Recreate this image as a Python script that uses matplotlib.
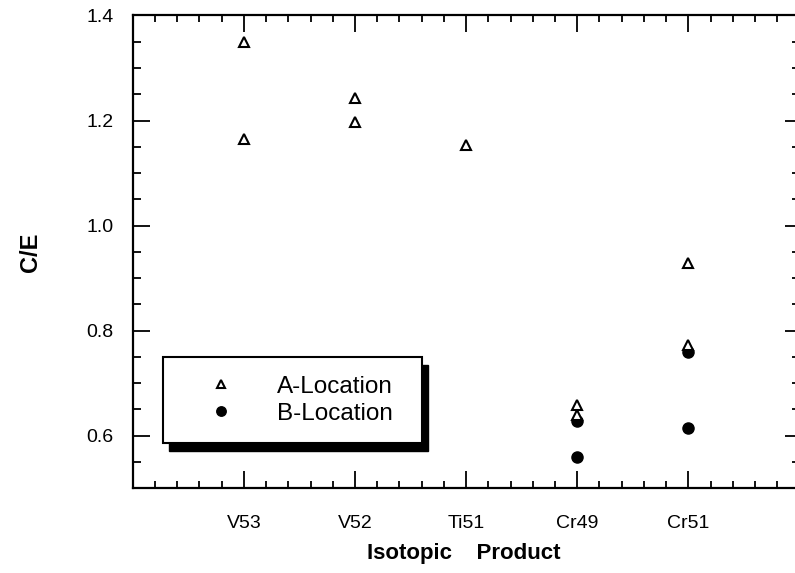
import matplotlib.pyplot as plt
from matplotlib.patches import Rectangle
from matplotlib.ticker import MultipleLocator, FixedLocator

plt.rcParams['font.family'] = ['Liberation Sans', 'DejaVu Sans']

# isotopic products and measured C/E ratios
products = ['V53', 'V52', 'Ti51', 'Cr49', 'Cr51']
a_x = [1, 1, 2, 2, 3, 4, 4, 5, 5]
a_ce = [1.350, 1.164, 1.242, 1.198, 1.154, 0.659, 0.640, 0.928, 0.773]
b_x = [4, 4, 5, 5]
b_ce = [0.627, 0.560, 0.760, 0.615]

fig = plt.figure(figsize=(7.95, 5.73), dpi=100)
ax = fig.add_axes([0.167, 0.148, 0.833, 0.825])

ax.plot(a_x, a_ce, '^', mfc='white', mec='black', mew=1.5, ms=7.5,
        label='A-Location', zorder=4)
ax.plot(b_x, b_ce, 'o', color='black', ms=8, label='B-Location', zorder=3)

ax.set_xlim(0, 5.96)
ax.set_ylim(0.5, 1.4)

ax.xaxis.set_major_locator(FixedLocator(range(1, 6)))
ax.set_xticklabels(products)
ax.xaxis.set_minor_locator(MultipleLocator(0.2))
ax.set_yticks([0.6, 0.8, 1.0, 1.2, 1.4])
ax.set_yticklabels(['0.6', '0.8', '1.0', '1.2', '1.4'])
ax.yaxis.set_minor_locator(MultipleLocator(0.05))

ax.tick_params(which='both', direction='in', top=True, right=False,
               labelsize=14, width=1.3)
ax.tick_params(axis='x', which='major', length=12, pad=19)
ax.tick_params(axis='x', which='minor', length=5)
ax.tick_params(axis='y', which='major', length=12, pad=14)
ax.tick_params(axis='y', which='minor', length=6)

ax.spines['right'].set_visible(False)
for side in ['left', 'top', 'bottom']:
    ax.spines[side].set_linewidth(1.6)

# short ticks along the right edge (no spine drawn there)
ax2 = ax.twinx()
ax2.set_ylim(ax.get_ylim())
ax2.set_yticks([0.6, 0.8, 1.0, 1.2])
ax2.yaxis.set_minor_locator(MultipleLocator(0.05))
ax2.tick_params(which='both', direction='in', labelright=False, width=1.3)
ax2.tick_params(which='major', length=7)
ax2.tick_params(which='minor', length=2)
for side in ax2.spines:
    ax2.spines[side].set_visible(False)

ax.set_ylabel('C/E', fontsize=17, fontweight='bold', labelpad=32)
ax.set_xlabel('Isotopic    Product', fontsize=16, fontweight='bold', labelpad=8)

# legend box with heavy drop shadow
bx0, by0, bw, bh = 0.045, 0.095, 0.392, 0.182
ax2.add_patch(Rectangle((bx0 + 0.009, by0 - 0.016), bw, bh, transform=ax.transAxes,
                        facecolor='black', edgecolor='black', zorder=5))
ax2.add_patch(Rectangle((bx0, by0), bw, bh, transform=ax.transAxes,
                        facecolor='white', edgecolor='black', lw=1.5, zorder=6))
handles, labels = ax.get_legend_handles_labels()
leg = ax2.legend(handles, labels, loc='center',
                 bbox_to_anchor=(bx0 + bw / 2 + 0.003, by0 + bh / 2),
                 bbox_transform=ax.transAxes, frameon=False, fontsize=17.5,
                 handletextpad=1.3, labelspacing=0.2, markerscale=0.85)
leg.set_zorder(7)

fig.savefig('out.png', dpi=100)
